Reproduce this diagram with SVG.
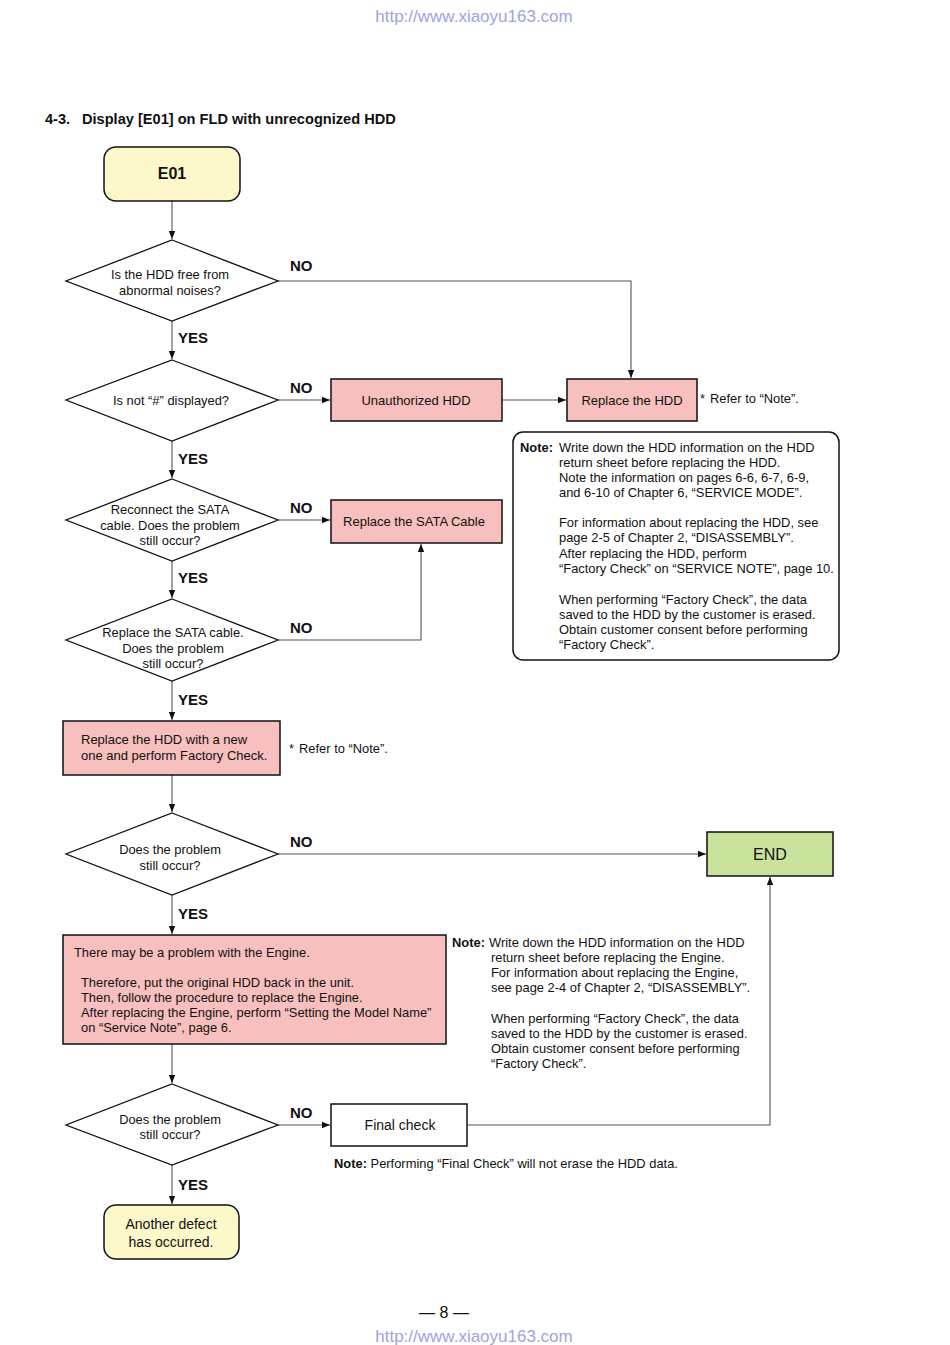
<svg xmlns="http://www.w3.org/2000/svg" width="950" height="1345" viewBox="0 0 950 1345">
<defs>
<marker id="ah" viewBox="0 0 10 10" refX="10" refY="5" markerWidth="10" markerHeight="8" markerUnits="userSpaceOnUse" orient="auto">
<path d="M0,1 L10,5 L0,9 z" fill="#111"/>
</marker>
<style>
text{font-family:"Liberation Sans",Arial,sans-serif;fill:#111}
.t{font-size:12.9px}
.c{text-anchor:middle}
.lab{font-size:15px;font-weight:bold}
.box{fill:#f7bfbd;stroke:#111;stroke-width:1.5}
.dia{fill:#fff;stroke:#111;stroke-width:1.3}
.yel{fill:#fcf8c9;stroke:#111;stroke-width:1.5}
.conn{fill:none;stroke:#555;stroke-width:1.1}
.url{font-size:17px;fill:#9ea4de}
</style>
</defs>
<rect width="950" height="1345" fill="#fff"/>
<text class="url c" x="474" y="22">http://www.xiaoyu163.com</text>
<text y="124" style="font-size:14.6px;font-weight:bold"><tspan x="45">4-3.</tspan><tspan x="82">Display [E01] on FLD with unrecognized HDD</tspan></text>

<g id="connectors">
<path class="conn" d="M172,201 V239" marker-end="url(#ah)"/>
<path class="conn" d="M278,281 H631 V378" marker-end="url(#ah)"/>
<path class="conn" d="M172,321 V359" marker-end="url(#ah)"/>
<path class="conn" d="M278,400 H330" marker-end="url(#ah)"/>
<path class="conn" d="M502,400 H566" marker-end="url(#ah)"/>
<path class="conn" d="M172,441 V478" marker-end="url(#ah)"/>
<path class="conn" d="M278,520 H330" marker-end="url(#ah)"/>
<path class="conn" d="M172,561 V598" marker-end="url(#ah)"/>
<path class="conn" d="M278,640 H421 V544" marker-end="url(#ah)"/>
<path class="conn" d="M172,681 V720" marker-end="url(#ah)"/>
<path class="conn" d="M172,775 V812" marker-end="url(#ah)"/>
<path class="conn" d="M278,854 H706" marker-end="url(#ah)"/>
<path class="conn" d="M172,895 V934" marker-end="url(#ah)"/>
<path class="conn" d="M172,1044 V1083" marker-end="url(#ah)"/>
<path class="conn" d="M278,1125 H330" marker-end="url(#ah)"/>
<path class="conn" d="M467,1125 H770 V877" marker-end="url(#ah)"/>
<path class="conn" d="M172,1165 V1204" marker-end="url(#ah)"/>
</g>

<g id="labels">
<text class="lab" x="290" y="271">NO</text>
<text class="lab" x="178" y="343">YES</text>
<text class="lab" x="290" y="393">NO</text>
<text class="lab" x="178" y="464">YES</text>
<text class="lab" x="290" y="513">NO</text>
<text class="lab" x="178" y="583">YES</text>
<text class="lab" x="290" y="633">NO</text>
<text class="lab" x="178" y="705">YES</text>
<text class="lab" x="290" y="847">NO</text>
<text class="lab" x="178" y="919">YES</text>
<text class="lab" x="290" y="1118">NO</text>
<text class="lab" x="178" y="1190">YES</text>
</g>

<g id="n-e01">
<rect class="yel" x="104" y="147" width="136" height="54" rx="12"/>
<text class="c" x="172" y="179" style="font-size:16px;font-weight:bold">E01</text>
</g>

<g id="n-d1">
<polygon class="dia" points="172,240 278,281 172,321 66,281"/>
<text class="t c" x="170" y="279">Is the HDD free from</text>
<text class="t c" x="170" y="295">abnormal noises?</text>
</g>

<g id="n-d2">
<polygon class="dia" points="172,360 278,400 172,441 66,400"/>
<text class="t c" x="171" y="405">Is not “#” displayed?</text>
</g>

<g id="n-unauth">
<rect class="box" x="331" y="379" width="171" height="42"/>
<text class="c" x="416" y="405" style="font-size:13px">Unauthorized HDD</text>
</g>

<g id="n-replhdd">
<rect class="box" x="567" y="379" width="130" height="42"/>
<text class="c" x="632" y="405" style="font-size:13px">Replace the HDD</text>
<text class="t" x="700" y="403">*<tspan dx="5">Refer to “Note”.</tspan></text>
</g>

<g id="n-note1">
<rect x="513" y="432" width="326" height="228" rx="10" fill="#fff" stroke="#111" stroke-width="1.5"/>
<text class="t" x="520" y="452" style="font-weight:bold">Note:</text>
<text class="t" x="559" y="452">Write down the HDD information on the HDD</text>
<text class="t" x="559" y="467">return sheet before replacing the HDD.</text>
<text class="t" x="559" y="482">Note the information on pages 6-6, 6-7, 6-9,</text>
<text class="t" x="559" y="497">and 6-10 of Chapter 6, “SERVICE MODE”.</text>
<text class="t" x="559" y="527">For information about replacing the HDD, see</text>
<text class="t" x="559" y="542">page 2-5 of Chapter 2, “DISASSEMBLY”.</text>
<text class="t" x="559" y="558">After replacing the HDD, perform</text>
<text class="t" x="559" y="573">“Factory Check” on “SERVICE NOTE”, page 10.</text>
<text class="t" x="559" y="604">When performing “Factory Check”, the data</text>
<text class="t" x="559" y="619">saved to the HDD by the customer is erased.</text>
<text class="t" x="559" y="634">Obtain customer consent before performing</text>
<text class="t" x="559" y="649">“Factory Check”.</text>
</g>

<g id="n-d3">
<polygon class="dia" points="172,479 278,520 172,561 66,520"/>
<text class="t c" x="170" y="514">Reconnect the SATA</text>
<text class="t c" x="170" y="530">cable. Does the problem</text>
<text class="t c" x="170" y="545">still occur?</text>
</g>

<g id="n-sata">
<rect class="box" x="331" y="500" width="171" height="43"/>
<text class="c" x="414" y="526" style="font-size:13px">Replace the SATA Cable</text>
</g>

<g id="n-d4">
<polygon class="dia" points="172,599 278,640 172,681 66,640"/>
<text class="t c" x="173" y="637">Replace the SATA cable.</text>
<text class="t c" x="173" y="653">Does the problem</text>
<text class="t c" x="173" y="668">still occur?</text>
</g>

<g id="n-newhdd">
<rect class="box" x="63" y="721" width="217" height="54"/>
<text x="81" y="744" style="font-size:13px">Replace the HDD with a new</text>
<text x="81" y="760" style="font-size:13px">one and perform Factory Check.</text>
<text class="t" x="289" y="753">*<tspan dx="5">Refer to “Note”.</tspan></text>
</g>

<g id="n-d5">
<polygon class="dia" points="172,813 278,854 172,895 66,854"/>
<text class="t c" x="170" y="854">Does the problem</text>
<text class="t c" x="170" y="870">still occur?</text>
</g>

<g id="n-end">
<rect x="707" y="832" width="126" height="44" fill="#c9e29c" stroke="#111" stroke-width="1.5"/>
<text class="c" x="770" y="860" style="font-size:16px">END</text>
</g>

<g id="n-engine">
<rect class="box" x="63" y="935" width="383" height="109"/>
<text class="t" x="74" y="957">There may be a problem with the Engine.</text>
<text class="t" x="81" y="987">Therefore, put the original HDD back in the unit.</text>
<text class="t" x="81" y="1002">Then, follow the procedure to replace the Engine.</text>
<text class="t" x="81" y="1017">After replacing the Engine, perform “Setting the Model Name”</text>
<text class="t" x="81" y="1032">on “Service Note”, page 6.</text>
</g>

<g id="n-note2">
<text class="t" x="452" y="947" style="font-weight:bold">Note:</text>
<text class="t" x="489" y="947">Write down the HDD information on the HDD</text>
<text class="t" x="491" y="962">return sheet before replacing the Engine.</text>
<text class="t" x="491" y="977">For information about replacing the Engine,</text>
<text class="t" x="491" y="992">see page 2-4 of Chapter 2, “DISASSEMBLY”.</text>
<text class="t" x="491" y="1023">When performing “Factory Check”, the data</text>
<text class="t" x="491" y="1038">saved to the HDD by the customer is erased.</text>
<text class="t" x="491" y="1053">Obtain customer consent before performing</text>
<text class="t" x="491" y="1068">“Factory Check”.</text>
</g>

<g id="n-d6">
<polygon class="dia" points="172,1084 278,1125 172,1165 66,1125"/>
<text class="t c" x="170" y="1124">Does the problem</text>
<text class="t c" x="170" y="1139">still occur?</text>
</g>

<g id="n-final">
<rect x="331" y="1104" width="136" height="42" fill="#fff" stroke="#111" stroke-width="1.5"/>
<text class="c" x="400" y="1130" style="font-size:14px">Final check</text>
<text class="t" x="334" y="1168"><tspan style="font-weight:bold">Note:</tspan> Performing “Final Check” will not erase the HDD data.</text>
</g>

<g id="n-another">
<rect class="yel" x="104" y="1205" width="135" height="54" rx="12"/>
<text class="c" x="171" y="1229" style="font-size:14px">Another defect</text>
<text class="c" x="171" y="1247" style="font-size:14px">has occurred.</text>
</g>

<text class="c" x="444" y="1318" style="font-size:16px">— 8 —</text>
<text class="url c" x="474" y="1342">http://www.xiaoyu163.com</text>
</svg>
